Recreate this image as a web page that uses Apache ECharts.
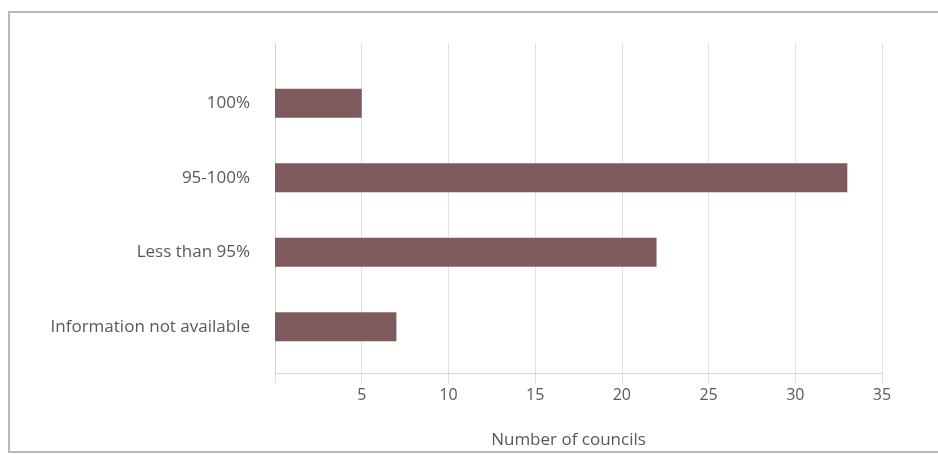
<!DOCTYPE html>
<html lang="en">
<head>
    <meta charset="UTF-8">
    <title>Number of councils</title>
    <style>
        html, body { margin: 0; padding: 0; background: #fff; }
    </style>
</head>
<body>
    <div id="main" style="width: 938px; height: 454px;"></div>

    <script src="https://cdn.jsdelivr.net/npm/echarts@6/dist/echarts.min.js"></script>
    <script>
        // data
        var categories = ['100%', '95-100%', 'Less than 95%', 'Information not available']
        var councils = [5, 33, 22, 7]
        var xTicks = { min: 0, max: 35, step: 5 }

        var textColor = '#595959'
        var font = 'Open Sans'
        var fontSize = 17

        var myChart = echarts.init(document.getElementById('main'))

        var option = {
            animation: false,
            backgroundColor: '#fff',
            textStyle: { fontFamily: font },
            // outer frame
            graphic: [{
                type: 'rect',
                shape: { x: 9, y: 12, width: 940, height: 440 },
                style: { fill: 'none', stroke: '#b8b8b8', lineWidth: 2 },
                silent: true
            }],
            grid: [
                // grid 0: axes and gridlines
                { left: 275, right: 56, top: 43, bottom: 76 },
                // grid 1: bars and category labels
                { left: 275, right: 56, top: 66, bottom: 90 }
            ],
            xAxis: [
                {
                    gridIndex: 0,
                    type: 'value',
                    min: xTicks.min,
                    max: xTicks.max,
                    interval: xTicks.step,
                    name: 'Number of councils',
                    nameLocation: 'middle',
                    nameGap: 59,
                    nameTextStyle: { color: textColor, fontSize: fontSize, fontFamily: font, padding: [0, 20, 0, 0] },
                    axisLine: { show: true, lineStyle: { color: '#d9d0d0', width: 1 } },
                    axisTick: { show: true, length: 10, lineStyle: { color: '#e2dada' } },
                    axisLabel: {
                        color: textColor, fontSize: 16, fontFamily: font, margin: 14,
                        formatter: function (v) { return v === 0 ? '' : v }
                    },
                    splitLine: { show: true, lineStyle: { color: '#e6e0e0', width: 1 } }
                },
                {
                    gridIndex: 1,
                    type: 'value',
                    min: xTicks.min,
                    max: xTicks.max,
                    show: false
                }
            ],
            yAxis: [
                {
                    gridIndex: 0,
                    type: 'value',
                    axisLine: { show: true, lineStyle: { color: '#d9d0d0' } },
                    axisTick: { show: false },
                    axisLabel: { show: false },
                    splitLine: { show: false }
                },
                {
                    gridIndex: 1,
                    type: 'category',
                    inverse: true,
                    data: categories,
                    axisLine: { show: false },
                    axisTick: { show: false },
                    axisLabel: { color: textColor, fontSize: fontSize, fontFamily: font, margin: 25 }
                }
            ],
            series: [
                {
                    type: 'bar',
                    xAxisIndex: 1,
                    yAxisIndex: 1,
                    data: councils,
                    barWidth: 29,
                    itemStyle: { color: '#7f5a5c' }
                }
            ]
        }
        myChart.setOption(option)
    </script>
</body>
</html>
